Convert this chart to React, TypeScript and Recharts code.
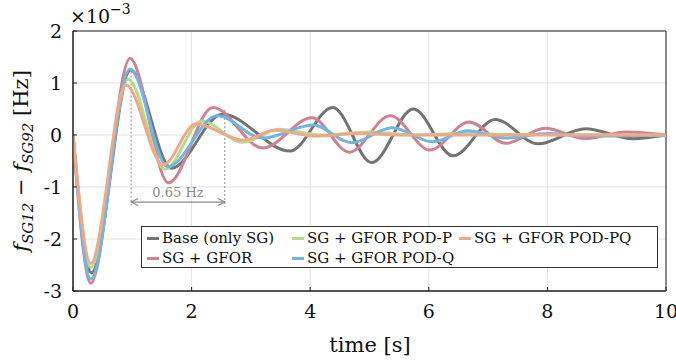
import React from 'react';
import { LineChart, Line, XAxis, YAxis, CartesianGrid, ReferenceLine, ReferenceArea } from 'recharts';

// values in units of 1e-3 Hz
const xTicks = [0, 2, 4, 6, 8, 10];
const yTicks = [-3, -2, -1, 0, 1, 2];

const baseT = [0, 0.31, 0.97, 1.66, 2.52, 3.66, 4.38, 5.04, 5.74, 6.41, 7.12, 7.84, 8.64, 9.44, 10];
const baseV = [0, -2.65, 1.25, -0.64, 0.4, -0.31, 0.53, -0.53, 0.5, -0.4, 0.3, -0.17, 0.12, -0.07, 0];

const gforT = [0, 0.3, 0.96, 1.61, 2.36, 3.2, 4.03, 4.66, 5.35, 6.02, 6.68, 7.3, 7.96, 8.63, 9.34, 10];
const gforV = [0, -2.85, 1.47, -0.92, 0.53, -0.25, 0.33, -0.33, 0.37, -0.29, 0.25, -0.16, 0.13, -0.07, 0.06, 0];

const podPT = [0, 0.3, 0.93, 1.55, 2.17, 2.86, 3.48, 4.2, 5.0, 5.8, 6.5, 7.5, 10];
const podPV = [0, -2.55, 1.07, -0.66, 0.27, -0.14, 0.11, 0.0, 0.06, 0.0, 0.03, 0.01, 0];

const podQT = [0, 0.3, 0.96, 1.6, 2.43, 3.2, 4.05, 4.7, 5.38, 6.06, 6.66, 7.31, 8.0, 8.7, 10];
const podQV = [0, -2.77, 1.27, -0.61, 0.37, -0.06, 0.19, -0.15, 0.14, -0.13, 0.08, -0.06, 0.03, -0.02, 0];

const podPQT = [0, 0.3, 0.89, 1.52, 2.07, 2.88, 3.4, 4.1, 4.8, 5.5, 10];
const podPQV = [0, -2.47, 0.96, -0.57, 0.21, -0.1, 0.09, -0.02, 0.03, 0, 0];

const series = [
  { name: 'Base (only SG)', color: '#737373', t: baseT, v: baseV, col: 0, row: 0 },
  { name: 'SG + GFOR', color: '#d3818f', t: gforT, v: gforV, col: 0, row: 1 },
  { name: 'SG + GFOR POD-P', color: '#b6d88f', t: podPT, v: podPV, col: 1, row: 0 },
  { name: 'SG + GFOR POD-Q', color: '#6fb6e3', t: podQT, v: podQV, col: 1, row: 1 },
  { name: 'SG + GFOR POD-PQ', color: '#f0a986', t: podPQT, v: podPQV, col: 2, row: 0 },
];

const toData = (t: number[], v: number[]) => t.map((x, i) => ({ t: x, v: v[i] }));

const FONT = "'DejaVu Serif', 'Liberation Serif', 'Times New Roman', serif";
const legendCols = [5, 150, 317];

const YLabel = () => (
  <g>
    <text transform="translate(28,161) rotate(-90)" textAnchor="middle" fontFamily={FONT} fontSize={21} fill="#111">
      <tspan fontStyle="italic">f</tspan>
      <tspan fontStyle="italic" fontSize={15} dy={5}>SG12</tspan>
      <tspan dy={-5}> − </tspan>
      <tspan fontStyle="italic">f</tspan>
      <tspan fontStyle="italic" fontSize={15} dy={5}>SG92</tspan>
      <tspan dy={-5}> [Hz]</tspan>
    </text>
    <text x={70} y={23} fontFamily={FONT} fontSize={19} fill="#111">
      ×10<tspan fontSize={14} dy={-9}>−3</tspan>
    </text>
  </g>
);

const XLabel = () => (
  <text x={370} y={352} textAnchor="middle" fontFamily={FONT} fontSize={21} fill="#111">
    time [s]
  </text>
);

const Arrow = (p: any) => {
  const { x1, y1, x2, y2 } = p;
  const c = '#8a8a8a';
  return (
    <g>
      <line x1={x1} y1={y1} x2={x2} y2={y2} stroke={c} strokeWidth={1.2} />
      <polyline points={`${x1 + 7},${y1 - 3.5} ${x1},${y1} ${x1 + 7},${y1 + 3.5}`} fill="none" stroke={c} strokeWidth={1.2} />
      <polyline points={`${x2 - 7},${y2 - 3.5} ${x2},${y2} ${x2 - 7},${y2 + 3.5}`} fill="none" stroke={c} strokeWidth={1.2} />
      <text x={(x1 + x2) / 2} y={y1 - 5} textAnchor="middle" fontFamily={FONT} fontSize={13} fill={c}>
        0.65 Hz
      </text>
    </g>
  );
};

export default function App() {
  return (
    <div style={{ position: 'absolute', left: 0, top: 0, width: 676, height: 364, background: '#fff' }}>
      <LineChart width={676} height={364} margin={{ top: 31, right: 10, left: 23, bottom: 33 }}>
        <CartesianGrid stroke="#e2e2e2" strokeWidth={1} />
        <XAxis
          dataKey="t"
          type="number"
          domain={[0, 10]}
          ticks={xTicks}
          allowDataOverflow
          height={40}
          tickSize={-4}
          tickMargin={18}
          axisLine={{ stroke: '#222' }}
          tickLine={{ stroke: '#222' }}
          tick={{ fill: '#111', fontSize: 19, fontFamily: FONT }}
          label={{ content: () => <XLabel /> }}
        />
        <YAxis
          type="number"
          domain={[-3, 2]}
          ticks={yTicks}
          allowDataOverflow
          width={50}
          tickSize={-4}
          tickMargin={15}
          axisLine={{ stroke: '#222' }}
          tickLine={{ stroke: '#222' }}
          tick={{ fill: '#111', fontSize: 19, fontFamily: FONT }}
          label={{ content: () => <YLabel /> }}
        />
        <ReferenceArea x1={0} x2={10} y1={-3} y2={2} fill="none" fillOpacity={0} stroke="#222" strokeWidth={1} />
        <ReferenceLine segment={[{ x: 0.98, y: 1.22 }, { x: 0.98, y: -1.38 }]} stroke="#8a8a8a" strokeDasharray="2 2" strokeWidth={1} />
        <ReferenceLine segment={[{ x: 2.56, y: 0.48 }, { x: 2.56, y: -1.38 }]} stroke="#8a8a8a" strokeDasharray="2 2" strokeWidth={1} />
        <ReferenceLine segment={[{ x: 0.98, y: -1.29 }, { x: 2.56, y: -1.29 }]} shape={Arrow} />
        {series.map(s => (
          <Line
            key={s.name}
            data={toData(s.t, s.v)}
            dataKey="v"
            type="monotone"
            stroke={s.color}
            strokeWidth={3}
            dot={false}
            isAnimationActive={false}
          />
        ))}
      </LineChart>
      <div
        style={{
          position: 'absolute', left: 141, top: 226, width: 515, height: 40,
          border: '1px solid #333', background: '#fff', fontFamily: FONT, fontSize: 15, color: '#111',
        }}
      >
        {series.map(s => (
          <div
            key={s.name}
            style={{ position: 'absolute', left: legendCols[s.col], top: 1 + s.row * 20, height: 20, display: 'flex', alignItems: 'center', whiteSpace: 'nowrap' }}
          >
            <span style={{ display: 'inline-block', width: 12, height: 3, background: s.color, marginRight: 3 }} />
            {s.name}
          </div>
        ))}
      </div>
    </div>
  );
}
